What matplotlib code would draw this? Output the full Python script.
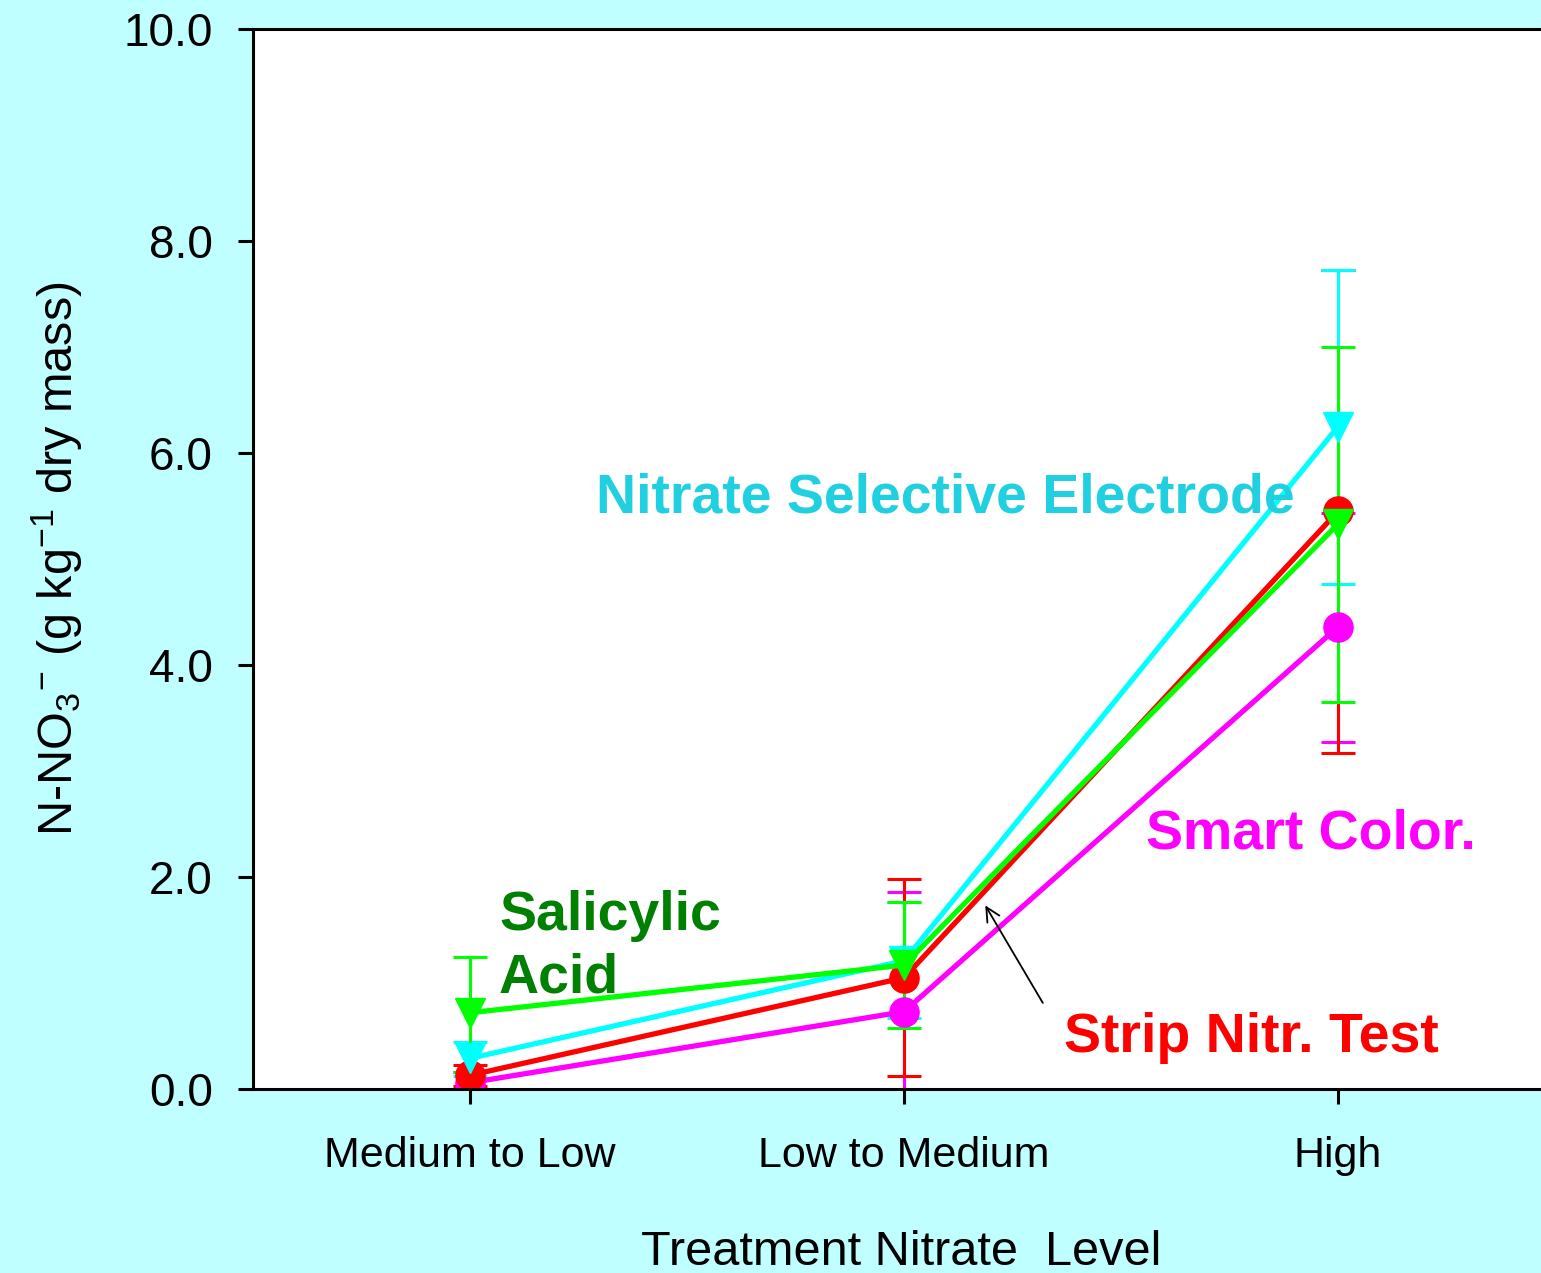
import matplotlib
matplotlib.use("Agg")
import matplotlib.pyplot as plt

plt.rcParams['font.family'] = ['Liberation Sans', 'DejaVu Sans']
plt.rcParams['mathtext.fontset'] = 'custom'
plt.rcParams['mathtext.rm'] = 'Liberation Sans'
plt.rcParams['mathtext.it'] = 'Liberation Sans'

categories = ['Medium to Low', 'Low to Medium', 'High']

# means
strip = [0.13, 1.05, 5.45]
smart = [0.06, 0.73, 4.36]
electrode = [0.29, 1.21, 6.25]
salicylic = [0.72, 1.17, 5.33]

# error bars (lower, upper) as distances
strip_err = [[0.10, 0.93, 2.28], [0.10, 0.93, 2.28]]
smart_err = [[0.10, 1.13, 1.09], [0.10, 1.13, 1.07]]
electrode_err = [[0.17, 0.54, 1.49], [0.15, 0.55, 1.48]]
salicylic_err = [[0.56, 0.59, 1.68], [0.53, 0.59, 1.67]]

fig = plt.figure(figsize=(15.41, 12.73), dpi=100)
fig.patch.set_facecolor('#C0FFFF')
ax = fig.add_axes([0.1642, 0.1445, 0.8449, 0.8327])
ax.set_facecolor('white')

x = list(range(len(categories)))

series = [
    (smart, smart_err, '#FF00FF', 'o'),
    (strip, strip_err, '#FF0000', 'o'),
    (electrode, electrode_err, '#00FFFF', 'v'),
    (salicylic, salicylic_err, '#00FF00', 'v'),
]
for vals, err, col, mk in series:
    ax.errorbar(x, vals, yerr=err, color=col, marker=mk, markersize=21,
                linewidth=3.8, elinewidth=2.2, capsize=12, capthick=2.2)

ax.set_xlim(-0.5, 2.5)
ax.set_ylim(0, 10)
ax.set_yticks([0, 2, 4, 6, 8, 10])
ax.set_yticklabels(['0.0', '2.0', '4.0', '6.0', '8.0', '10.0'])
ax.set_xticks(x)
ax.set_xticklabels(categories)
ax.tick_params(axis='y', labelsize=33, length=11, width=2.2, direction='out', pad=18)
ax.tick_params(axis='x', labelsize=31, length=11, width=2.2, direction='out', pad=23)
for s in ['left', 'bottom', 'top']:
    ax.spines[s].set_linewidth(2.2)
ax.spines['right'].set_visible(False)

ax.set_ylabel(r'N-NO$_3$$^{-}$ (g kg$^{-1}$ dry mass)', fontsize=35)
ax.yaxis.set_label_coords(-0.129, 0.5)
ax.set_xlabel('Treatment Nitrate  Level', fontsize=35)
ax.xaxis.set_label_coords(0.498, -0.133)

ax.text(0.29, 5.44, 'Nitrate Selective Electrode', color='#20D0E0',
        fontsize=40, fontweight='bold', ha='left', va='baseline')
ax.text(1.558, 2.27, 'Smart Color.', color='#FF00FF',
        fontsize=40, fontweight='bold', ha='left', va='baseline')
ax.text(1.369, 0.35, 'Strip Nitr. Test', color='#FF0000',
        fontsize=40, fontweight='bold', ha='left', va='baseline')
ax.text(0.067, 1.50, 'Salicylic', color='#008000',
        fontsize=40, fontweight='bold', ha='left', va='baseline')
ax.text(0.067, 0.915, 'Acid', color='#008000',
        fontsize=40, fontweight='bold', ha='left', va='baseline')
ax.annotate('', xy=(1.184, 1.755), xytext=(1.323, 0.79),
            arrowprops=dict(arrowstyle='->', color='black', lw=1.3,
                            mutation_scale=25))

fig.savefig('out.png', dpi=100, facecolor=fig.get_facecolor())
